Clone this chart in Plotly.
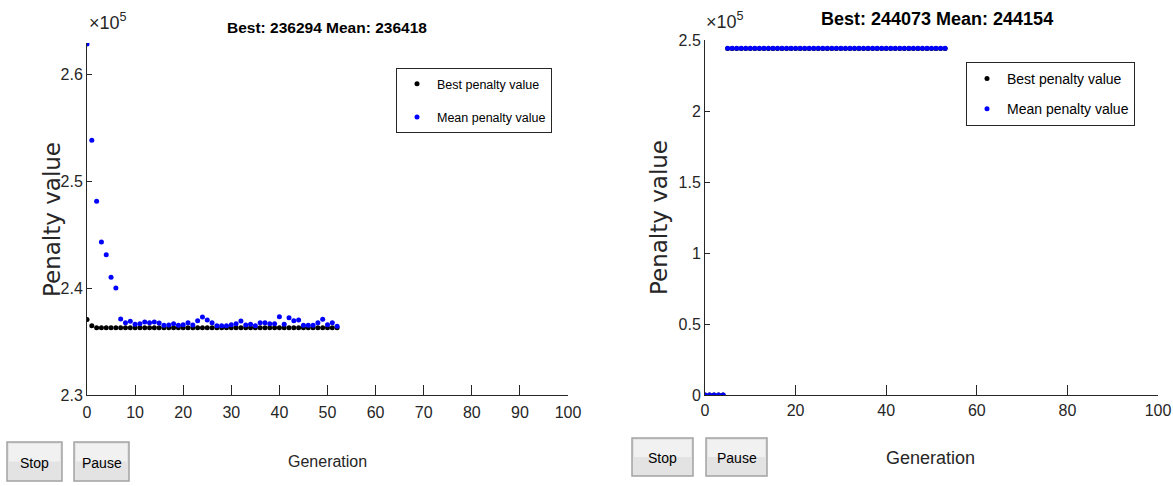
import plotly.graph_objects as go

W, H = 1173, 486

# ---------------- data ----------------
gen_left = list(range(0, 53))
best_left = [237050, 236480] + [236294] * 51
mean_left = [262800, 253800, 248100, 244300, 243100, 241000, 240000,
             237100, 236759, 236883, 236604, 236666, 236821, 236759, 236821,
             236728, 236511, 236542, 236666, 236511, 236573, 236759, 236542,
             236945, 237286, 237007, 236759, 236480, 236480, 236480, 236573,
             236666, 236914, 236542, 236604, 236480, 236759, 236759, 236666,
             236666, 237317, 236604, 237224, 236945, 237007, 236511, 236511,
             236511, 236759, 237069, 236573, 236759, 236418]

gen_right = list(range(0, 54))
best_right = [0] * 5 + [244073] * 49
mean_right = [0] * 5 + [244154] * 49

title_left = "Best: 236294 Mean: 236418"
title_right = "Best: 244073 Mean: 244154"

xticks_left = list(range(0, 101, 10))
xticks_right = list(range(0, 101, 20))
yticks_left = [230000, 240000, 250000, 260000]
yticklabels_left = ["2.3", "2.4", "2.5", "2.6"]
yticks_right = [0, 50000, 100000, 150000, 200000, 250000]
yticklabels_right = ["0", "0.5", "1", "1.5", "2", "2.5"]


def px(x):
    return x / W


def py(y):
    return 1 - y / H


SANS = "Liberation Sans, Arial, sans-serif"
WIDE = "DejaVu Sans, Verdana, sans-serif"
AX = "#262626"

fig = go.Figure()

fig.add_trace(go.Scatter(x=gen_left, y=best_left, mode="markers", name="Best penalty value",
                         marker=dict(color="black", size=5), xaxis="x", yaxis="y",
                         legend="legend", legendgroup="b1"))
fig.add_trace(go.Scatter(x=gen_left, y=mean_left, mode="markers", name="Mean penalty value",
                         marker=dict(color="#0000ff", size=5), xaxis="x", yaxis="y",
                         legend="legend", legendgroup="m1"))
fig.add_trace(go.Scatter(x=gen_right, y=best_right, mode="markers", name="Best penalty value",
                         marker=dict(color="black", size=5), xaxis="x2", yaxis="y2",
                         legend="legend2", legendgroup="b2"))
fig.add_trace(go.Scatter(x=gen_right, y=mean_right, mode="markers", name="Mean penalty value",
                         marker=dict(color="#0000ff", size=5), xaxis="x2", yaxis="y2",
                         legend="legend2", legendgroup="m2"))

axis_common = dict(showline=True, linecolor=AX, linewidth=1, ticks="inside", tickcolor=AX,
                   showgrid=False, zeroline=False, automargin=False,
                   tickfont=dict(family=SANS, size=16, color=AX))

legend_common = dict(bgcolor="white", bordercolor=AX, borderwidth=1,
                     xanchor="left", yanchor="top", itemsizing="trace")

fig.update_layout(
    width=W, height=H, margin=dict(l=0, r=0, t=0, b=0, autoexpand=False),
    paper_bgcolor="white", plot_bgcolor="white",
    xaxis=dict(domain=[px(87), px(568)], range=[0, 100], tickvals=xticks_left,
               ticklen=10, anchor="y", ticklabelstandoff=3, **axis_common),
    yaxis=dict(domain=[py(395), py(43)], range=[230000, 262900], tickvals=yticks_left,
               ticktext=yticklabels_left, ticklen=5, anchor="x", **axis_common),
    xaxis2=dict(domain=[px(705), px(1158)], range=[0, 100], tickvals=xticks_right,
                ticklen=10, anchor="y2", ticklabelstandoff=1, **axis_common),
    yaxis2=dict(domain=[py(395), py(40)], range=[0, 250000], tickvals=yticks_right,
                ticktext=yticklabels_right, ticklen=5, anchor="x2", **axis_common),
    legend=dict(x=px(396), y=py(68), tracegroupgap=14,
                font=dict(family=SANS, size=12.5, color="black"), **legend_common),
    legend2=dict(x=px(966), y=py(62), tracegroupgap=9,
                 font=dict(family=SANS, size=14, color="black"), **legend_common),
    showlegend=True,
)

annotations = [
    dict(text="<b>" + title_left + "</b>", x=px(327), y=py(27), font=dict(family=SANS, size=15.5, color="black")),
    dict(text="<b>" + title_right + "</b>", x=px(937), y=py(19), font=dict(family=SANS, size=18, color="black")),
    dict(text="Generation", x=px(327), y=py(461), font=dict(family=SANS, size=16, color=AX)),
    dict(text="Generation", x=px(930), y=py(458), font=dict(family=SANS, size=18, color=AX)),
    dict(text="Penalty value", x=px(52), y=py(220), textangle=-90, font=dict(family=WIDE, size=23, color=AX)),
    dict(text="Penalty value", x=px(659), y=py(218), textangle=-90, font=dict(family=WIDE, size=23, color=AX)),
    dict(text="×10<sup>5</sup>", x=px(87), y=py(35), xanchor="left", yanchor="bottom",
         font=dict(family=SANS, size=18, color=AX)),
    dict(text="×10<sup>5</sup>", x=px(704), y=py(34), xanchor="left", yanchor="bottom",
         font=dict(family=SANS, size=18, color=AX)),
]

buttons = [("Stop", 7, 62, 442, 481), ("Pause", 74, 129, 442, 481),
           ("Stop", 632, 693, 438, 476), ("Pause", 706, 767, 438, 476)]
shapes = []
for label, x0, x1, y0, y1 in buttons:
    shapes.append(dict(type="rect", xref="paper", yref="paper", x0=px(x0), x1=px(x1),
                       y0=py(y1), y1=py(y0), fillcolor="#e3e3e3",
                       line=dict(color="#a3a3a3", width=1.5)))
    shapes.append(dict(type="rect", xref="paper", yref="paper", x0=px(x0 + 2), x1=px(x1 - 2),
                       y0=py((y0 + y1) / 2), y1=py(y0 + 2), fillcolor="#f1f1f1",
                       line=dict(width=0)))
    annotations.append(dict(text=label, x=px((x0 + x1) / 2), y=py((y0 + y1) / 2 + 1),
                            font=dict(family=SANS, size=14, color="black")))

for a in annotations:
    a.setdefault("xref", "paper")
    a.setdefault("yref", "paper")
    a.setdefault("showarrow", False)
    a.setdefault("xanchor", "center")
    a.setdefault("yanchor", "middle")

fig.update_layout(annotations=annotations, shapes=shapes)

fig.write_html("out.html", config={"displayModeBar": False},
               post_script="document.body.style.margin='0';document.body.style.overflow='hidden';")
